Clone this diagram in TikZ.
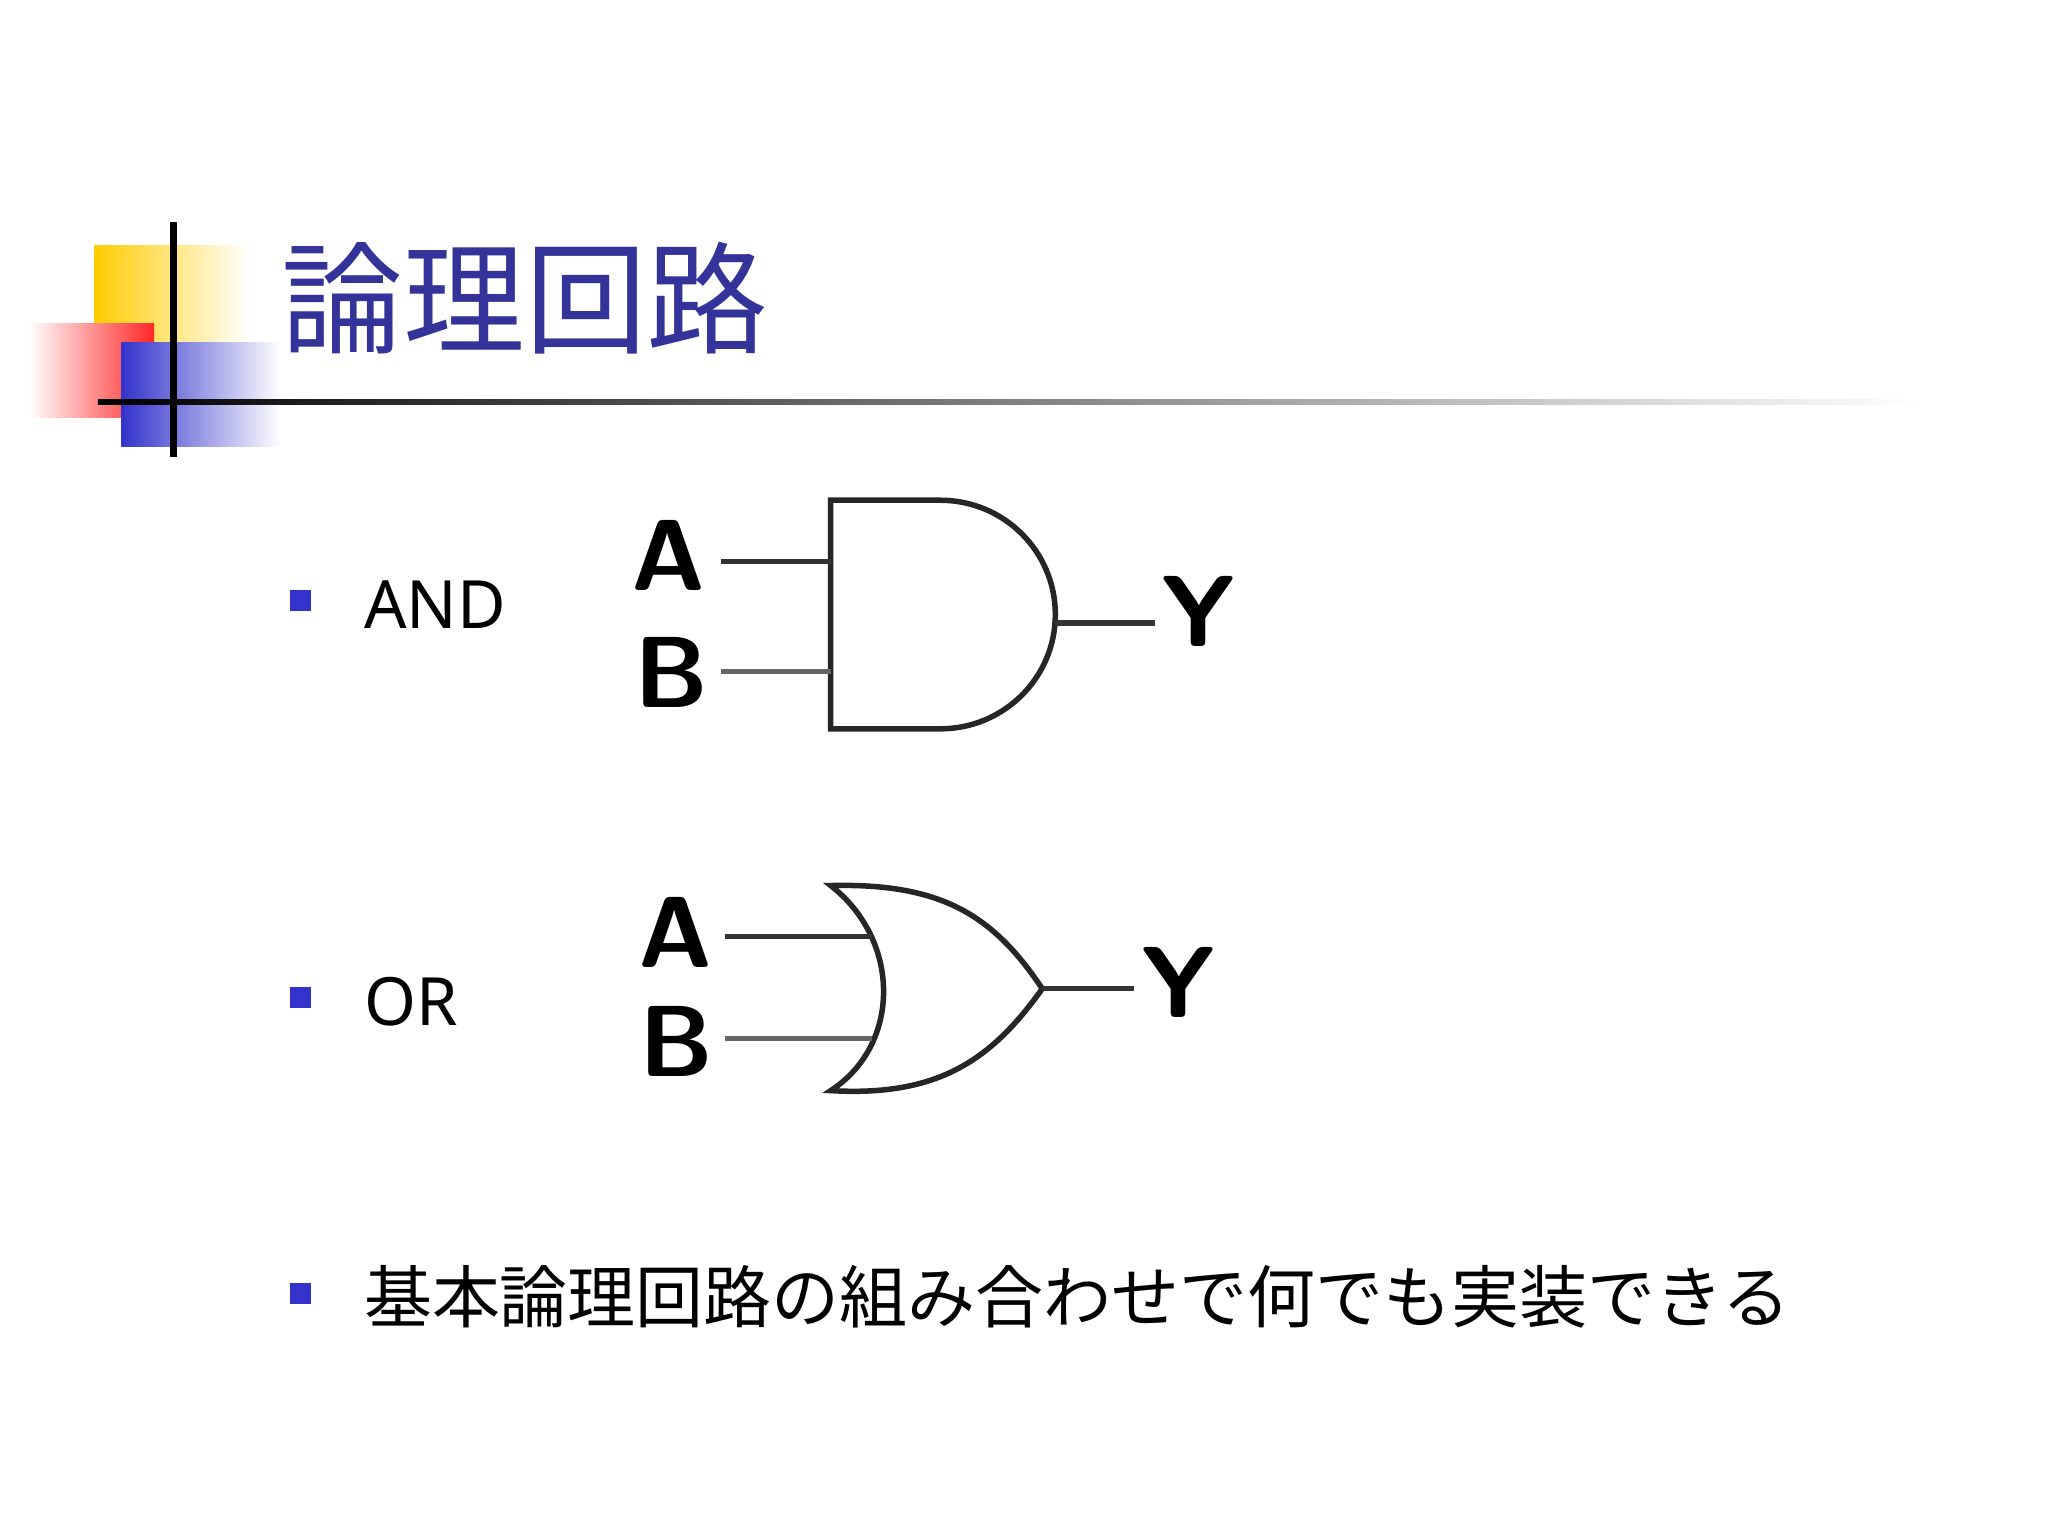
\documentclass[tikz,border=0pt]{standalone}
\usepackage{fontspec}
\setmainfont{Noto Sans}
\newfontfamily\jp{Noto Sans CJK JP}
\usetikzlibrary{shadings}
\definecolor{ttl}{RGB}{51,51,153}
\definecolor{bul}{RGB}{51,51,204}
\definecolor{gold}{RGB}{255,204,0}
\tikzset{lbl/.style={font=\fontsize{22}{22}\selectfont\sffamily\bfseries, inner sep=0pt},
 wire/.style={line width=1.2pt, black!80},
 gate/.style={line width=1.2pt, black!85},
 bullet/.style={fill=bul, minimum size=0.16cm, inner sep=0pt},
 item/.style={font=\fontsize{14.5}{14.5}\selectfont, anchor=west, inner sep=0pt}}
\begin{document}
\begin{tikzpicture}[x=0.01cm,y=-0.01cm]
\fill[white] (0,0) rectangle (1568,1176);
\useasboundingbox (0,0) rectangle (1568,1176);
% logo
\shade[left color=gold, right color=white] (72,188) rectangle (190,262);
\shade[left color=white, right color=red!85] (22,248) rectangle (118,320);
\shade[left color=bul, right color=white] (93,262) rectangle (215,342);
\draw[line width=1.5pt] (133,170) -- (133,350);
\shade[left color=black, right color=white] (75,306) rectangle (1470,310);
\node[anchor=west, inner sep=0pt, text=ttl, font=\jp\fontsize{26.5}{26.5}\selectfont] (title) at (215,228) {論理回路};
% bullets
\node[bullet] (b1) at (230,460) {};
\node[item] (t1) at (278,463) {AND};
\node[bullet] (b2) at (230,764) {};
\node[item] (t2) at (278,767) {OR};
\node[bullet] (b3) at (230,990) {};
\node[item, font=\jp\fontsize{14.8}{14.8}\selectfont] (t3) at (278,993) {基本論理回路の組み合わせで何でも実装できる};
% AND gate
\coordinate (ain) at (636,430); \coordinate (bin) at (636,514); \coordinate (aout) at (808,477);
\coordinate (ast) at (552,430); \coordinate (bst) at (552,514); \coordinate (yend) at (884,477);
\draw[gate] (720,383) -- (636,383) -- (636,558) -- (720,558) arc[start angle=-90,end angle=90,x radius=88,y radius=-87.5];
\node[lbl] (A1) at (512,425) {A};
\node[lbl] (B1) at (514,515) {B};
\node[lbl] (Y1) at (918,468) {Y};
\draw[wire] (ast) -- (ain);
\draw[wire, black!60] (bst) -- (bin);
\draw[wire] (aout) -- (yend);
% OR gate
\coordinate (oin) at (798,757);
\coordinate (oa) at (668,717); \coordinate (ob) at (668,795);
\coordinate (oas) at (555,717); \coordinate (obs) at (555,795); \coordinate (oy) at (868,757);
\draw[gate] (636,678) .. controls (690,720) and (690,800) .. (636,835)
  .. controls (720,840) and (760,810) .. (oin)
  .. controls (760,700) and (720,676) .. (636,678) -- cycle;
\node[lbl] (A2) at (517,714) {A};
\node[lbl] (B2) at (518,797) {B};
\node[lbl] (Y2) at (902,752) {Y};
\draw[wire] (oas) -- (oa);
\draw[wire, black!60] (obs) -- (ob);
\draw[wire] (oin) -- (oy);
\end{tikzpicture}
\end{document}
